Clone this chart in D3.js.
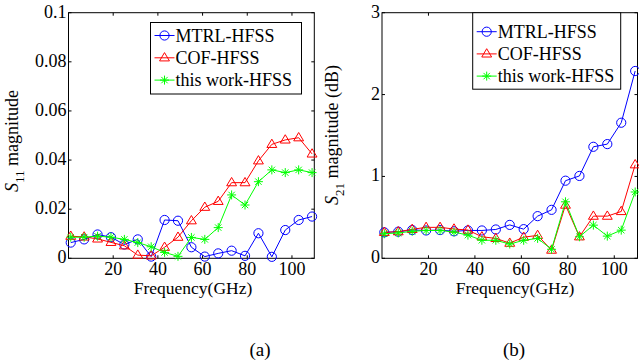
<!DOCTYPE html>
<html><head><meta charset="utf-8">
<script src="https://cdn.jsdelivr.net/npm/d3@7"></script>
<style>
html,body{margin:0;padding:0;background:#fff;}
svg{display:block;font-family:"Liberation Serif","Times New Roman",serif;}
</style></head>
<body>
<svg id="c" width="639" height="362"></svg>
<script>
const freq = [1,7,13,19,25,31,37,43,49,55,61,67,73,79,85,91,97,103,109];
const seriesNames = ["MTRL-HFSS","COF-HFSS","this work-HFSS"];
const s11MTRL = [0.0064,0.0077,0.0097,0.0086,0.0056,0.0077,0.0007,0.0156,0.0153,0.0045,0.0007,0.0020,0.0031,0.0010,0.0102,0.0006,0.0115,0.0156,0.0170];
const s11COF  = [0.0090,0.0087,0.0079,0.0065,0.0051,0.0013,0.0010,0.0045,0.0086,0.0153,0.0208,0.0232,0.0308,0.0308,0.0397,0.0464,0.0482,0.0491,0.0425];
const s11Work = [0.0086,0.0086,0.0090,0.0086,0.0077,0.0064,0.0047,0.0024,0.0008,0.0085,0.0077,0.0125,0.0258,0.0217,0.0312,0.0360,0.0349,0.0360,0.0349];
const s21MTRL = [0.317,0.325,0.345,0.340,0.345,0.330,0.340,0.340,0.352,0.408,0.356,0.515,0.592,0.948,1.006,1.362,1.395,1.656,2.288];
const s21COF  = [0.317,0.325,0.354,0.378,0.378,0.358,0.345,0.263,0.243,0.185,0.258,0.280,0.100,0.650,0.263,0.515,0.515,0.572,1.143];
const s21Work = [0.300,0.310,0.330,0.340,0.340,0.320,0.283,0.220,0.220,0.174,0.220,0.243,0.110,0.690,0.263,0.405,0.271,0.344,0.810];
const xTicks = [20,40,60,80,100];
const s11Ticks = [0,0.02,0.04,0.06,0.08,0.1];
const s11TickLabels = ["0","0.02","0.04","0.06","0.08","0.1"];
const s21Ticks = [0,1,2,3];
const s21TickLabels = ["0","1","2","3"];
const captions = ["(a)","(b)"];

const colors = ["#0000ff","#ff0000","#00ff00"];
const markers = ["circle","triangle","star"];
const svg = d3.select("#c");

function drawMarker(g, type, x, y, color){
  if(type==="circle"){
    g.append("circle").attr("cx",x).attr("cy",y).attr("r",4.6)
      .attr("fill","none").attr("stroke",color).attr("stroke-width",1);
  } else if(type==="triangle"){
    const r=5.2;
    g.append("path").attr("d",`M${x},${y-r}L${x+r*0.95},${y+r*0.6}L${x-r*0.95},${y+r*0.6}Z`)
      .attr("fill","none").attr("stroke",color).attr("stroke-width",1);
  } else {
    const r=4.5;
    let d="";
    for(let k=0;k<4;k++){
      const a=k*Math.PI/4;
      d+=`M${x-r*Math.cos(a)},${y-r*Math.sin(a)}L${x+r*Math.cos(a)},${y+r*Math.sin(a)}`;
    }
    g.append("path").attr("d",d).attr("stroke",color).attr("stroke-width",1).attr("fill","none");
  }
}

function panel(opts){
  const {left,right,top,bottom,ymax,yTicks,yTickLabels,data,legend,ylabSub,ylabRest,ylabX,ylabY,xlabX,caption,captionX} = opts;
  const x = d3.scaleLinear().domain([0,110]).range([left,right]);
  const y = d3.scaleLinear().domain([0,ymax]).range([bottom,top]);
  const g = svg.append("g");
  const tl = 3;
  g.append("rect").attr("x",left).attr("y",top).attr("width",right-left).attr("height",bottom-top)
    .attr("fill","none").attr("stroke","#000").attr("stroke-width",1);
  xTicks.forEach(t=>{
    const px=x(t);
    g.append("line").attr("x1",px).attr("x2",px).attr("y1",bottom).attr("y2",bottom-tl).attr("stroke","#000");
    g.append("line").attr("x1",px).attr("x2",px).attr("y1",top).attr("y2",top+tl).attr("stroke","#000");
    g.append("text").attr("x",px).attr("y",bottom+17).attr("text-anchor","middle")
      .attr("font-size",18).text(t);
  });
  yTicks.forEach((t,i)=>{
    const py=y(t);
    g.append("line").attr("x1",left).attr("x2",left+tl).attr("y1",py).attr("y2",py).attr("stroke","#000");
    g.append("line").attr("x1",right).attr("x2",right-tl).attr("y1",py).attr("y2",py).attr("stroke","#000");
    g.append("text").attr("x",left-2).attr("y",py+5).attr("text-anchor","end")
      .attr("font-size",18).text(yTickLabels[i]);
  });
  data.forEach((vals,si)=>{
    const line=d3.line().x((d,i)=>x(freq[i])).y(d=>y(d));
    g.append("path").attr("d",line(vals)).attr("fill","none").attr("stroke",colors[si]).attr("stroke-width",1);
    vals.forEach((v,i)=>drawMarker(g,markers[si],x(freq[i]),y(v),colors[si]));
  });
  const lg=g.append("g");
  lg.append("rect").attr("x",legend.x).attr("y",legend.y).attr("width",legend.w).attr("height",legend.h)
    .attr("fill","#fff").attr("stroke","#000").attr("stroke-width",1);
  seriesNames.forEach((n,si)=>{
    const ry=legend.y+legend.row0+si*legend.dy;
    lg.append("line").attr("x1",legend.x+4).attr("x2",legend.x+24).attr("y1",ry).attr("y2",ry)
      .attr("stroke",colors[si]).attr("stroke-width",1);
    drawMarker(lg,markers[si],legend.x+14,ry,colors[si]);
    lg.append("text").attr("x",legend.x+25).attr("y",ry+6).attr("font-size",18).text(n);
  });
  g.append("text").attr("x",xlabX).attr("y",bottom+36).attr("text-anchor","middle").attr("font-size",17.5).text("Frequency(GHz)");
  const yl=g.append("text").attr("transform",`translate(${ylabX},${ylabY}) rotate(-90)`)
    .attr("text-anchor","middle").attr("font-size",18);
  yl.append("tspan").attr("font-style","italic").text("S");
  yl.append("tspan").attr("font-size",13).attr("dy",6).text(ylabSub);
  yl.append("tspan").attr("dy",-6).text(" "+ylabRest);
  svg.append("text").attr("x",captionX).attr("y",356).attr("text-anchor","middle").attr("font-size",19).text(caption);
}

panel({left:68.5,right:314.3,top:12.7,bottom:258.3,ymax:0.1,yTicks:s11Ticks,yTickLabels:s11TickLabels,
  data:[s11MTRL,s11COF,s11Work],legend:{x:150.5,y:22.5,w:151,h:71.5,row0:13,dy:22.3},
  ylabSub:"11",ylabRest:"magnitude",ylabX:18,ylabY:141,xlabX:193,caption:captions[0],captionX:260});
panel({left:382,right:637.5,top:12.7,bottom:258.3,ymax:3,yTicks:s21Ticks,yTickLabels:s21TickLabels,
  data:[s21MTRL,s21COF,s21Work],legend:{x:472.7,y:12.7,w:148,h:76.5,row0:19,dy:22.2},
  ylabSub:"21",ylabRest:"magnitude (dB)",ylabX:338,ylabY:135,xlabX:515,caption:captions[1],captionX:514});
</script>
</body></html>
